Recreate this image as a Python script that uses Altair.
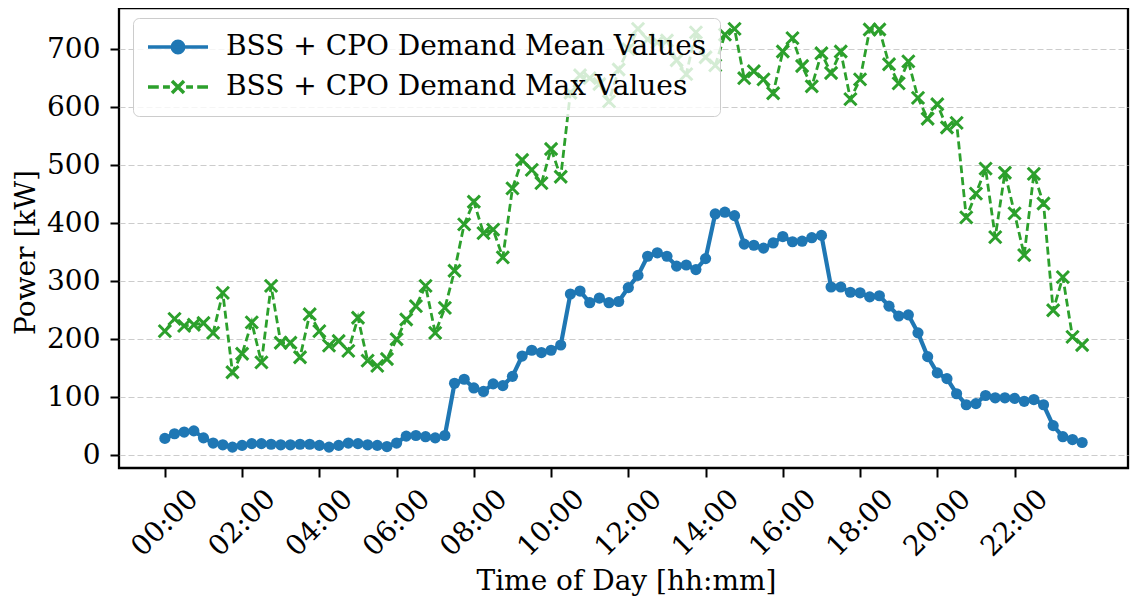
import altair as alt
import pandas as pd

# ---- data ----
times = [f"{h:02d}:{m:02d}" for h in range(24) for m in (0, 15, 30, 45)]

mean_values = [29, 37, 40, 42, 30, 21, 18, 14, 17, 20, 20, 19, 18, 18, 19, 19,
               17, 14, 17, 21, 20, 18, 17, 15, 21, 33, 34, 32, 30, 34, 124, 131,
               116, 110, 123, 120, 136, 171, 181, 177, 181, 190, 278, 283, 263, 271, 263, 265,
               289, 310, 343, 349, 343, 326, 328, 320, 339, 416, 419, 413, 364, 362, 357, 366,
               377, 368, 369, 375, 379, 290, 290, 281, 280, 273, 275, 257, 240, 242, 211, 170,
               142, 132, 106, 87, 89, 103, 99, 99, 98, 93, 96, 87, 51, 32, 27, 22]

max_values = [214, 235, 223, 225, 228, 211, 280, 143, 175, 229, 160, 292, 194, 194, 169, 243,
              214, 189, 197, 180, 237, 163, 154, 166, 200, 234, 257, 292, 211, 254, 318, 398,
              437, 383, 389, 341, 460, 509, 492, 469, 528, 480, 625, 655, 650, 640, 610, 665,
              700, 735, 717, 712, 715, 681, 657, 729, 686, 672, 725, 735, 650, 662, 648, 624,
              696, 719, 671, 636, 693, 659, 696, 614, 648, 734, 734, 674, 641, 679, 616, 580,
              605, 565, 573, 410, 451, 494, 376, 487, 417, 345, 485, 434, 250, 307, 204, 190]

series_names = ["BSS + CPO Demand Mean Values", "BSS + CPO Demand Max Values"]
colors = ["#1f77b4", "#2ca02c"]
x_ticks = [0, 2, 4, 6, 8, 10, 12, 14, 16, 18, 20, 22]
y_ticks = [0, 100, 200, 300, 400, 500, 600, 700]


def hours(t):
    h, m = t.split(":")
    return int(h) + int(m) / 60


df_mean = pd.DataFrame({"hour": [hours(t) for t in times], "value": mean_values,
                        "series": series_names[0]})
df_max = pd.DataFrame({"hour": [hours(t) for t in times], "value": max_values,
                       "series": series_names[1]})
df_all = pd.concat([df_mean, df_max])

FONT = "DejaVu Serif"
FS = 28

x_enc = alt.X("hour:Q", scale=alt.Scale(domain=[-1.1875, 24.9375], nice=False, zero=False),
              axis=alt.Axis(values=x_ticks, title="Time of Day [hh:mm]",
                            labelExpr="(datum.value < 10 ? '0' : '') + datum.value + ':00'",
                            labelAngle=315, labelAlign="center", labelBaseline="middle",
                            labelPadding=46, labelOverlap=False, labelFlush=False,
                            titleX=507, titleY=121, titleBaseline="alphabetic",
                            grid=False))
y_enc = alt.Y("value:Q", scale=alt.Scale(domain=[-22, 771], nice=False, zero=False),
              axis=alt.Axis(values=y_ticks, title="Power [kW]", format="d",
                            labelPadding=10, titleAngle=270, titleAlign="center",
                            titleBaseline="middle", titleX=-93, titleY=244,
                            grid=True, gridColor="#cccccc", gridDash=[6, 3],
                            gridWidth=1.2))

mean_line = alt.Chart(df_mean).mark_line(color=colors[0], strokeWidth=4.2).encode(x=x_enc, y=y_enc)
mean_pts = alt.Chart(df_mean).mark_circle(color=colors[0], size=125, opacity=1).encode(x=x_enc, y=y_enc)
max_line = alt.Chart(df_max).mark_line(color=colors[1], strokeWidth=2.8,
                                       strokeDash=[8, 4]).encode(x=x_enc, y=y_enc)
max_pts = alt.Chart(df_max).mark_point(shape="M-1,-1L1,1M-1,1L1,-1", size=150, filled=False,
                                       color=colors[1], strokeWidth=3,
                                       opacity=1).encode(x=x_enc, y=y_enc)

path_mean = "M-1,0L1,0M0.19,0A0.19,0.19,0,1,1,-0.19,0A0.19,0.19,0,1,1,0.19,0Z"
path_max = ("M-1,0L-0.64,0M-0.5,0L-0.27,0M0.27,0L0.5,0M0.64,0L1,0"
            "M-0.2,-0.2L0.2,0.2M-0.2,0.2L0.2,-0.2")

leg = alt.Legend(title=None, orient="none", legendX=14, legendY=10,
                 labelFont=FONT, labelFontSize=FS, labelColor="black", labelLimit=800,
                 symbolSize=3600, symbolStrokeWidth=3.5, symbolOpacity=1,
                 labelOffset=16, rowPadding=8, padding=13, clipHeight=32,
                 fillColor="rgba(255,255,255,0.8)", strokeColor="#cccccc",
                 cornerRadius=6)

legend_layer = alt.Chart(df_all).transform_filter("false").mark_point(
    filled=True, strokeWidth=3).encode(
    x=x_enc, y=y_enc,
    shape=alt.Shape("series:N", scale=alt.Scale(domain=series_names, range=[path_mean, path_max]),
                    legend=leg),
    stroke=alt.Stroke("series:N", scale=alt.Scale(domain=series_names, range=colors), legend=leg),
    fill=alt.Fill("series:N", scale=alt.Scale(domain=series_names, range=colors), legend=leg),
)

chart = alt.layer(mean_line, mean_pts, max_line, max_pts, legend_layer).properties(
    width=1009, height=460,
    padding={"left": 111, "top": 0, "right": 2, "bottom": 130},
    autosize=alt.AutoSizeParams(type="none"),
).configure_view(stroke="black", strokeWidth=2.3).configure_axis(
    labelFont=FONT, labelFontSize=FS, labelColor="black",
    titleFont=FONT, titleFontSize=FS, titleColor="black", titleFontWeight="normal",
    domain=False, tickColor="black", tickWidth=2, tickSize=9,
)

chart.save("out.html", embed_options={"renderer": "svg", "actions": False})
